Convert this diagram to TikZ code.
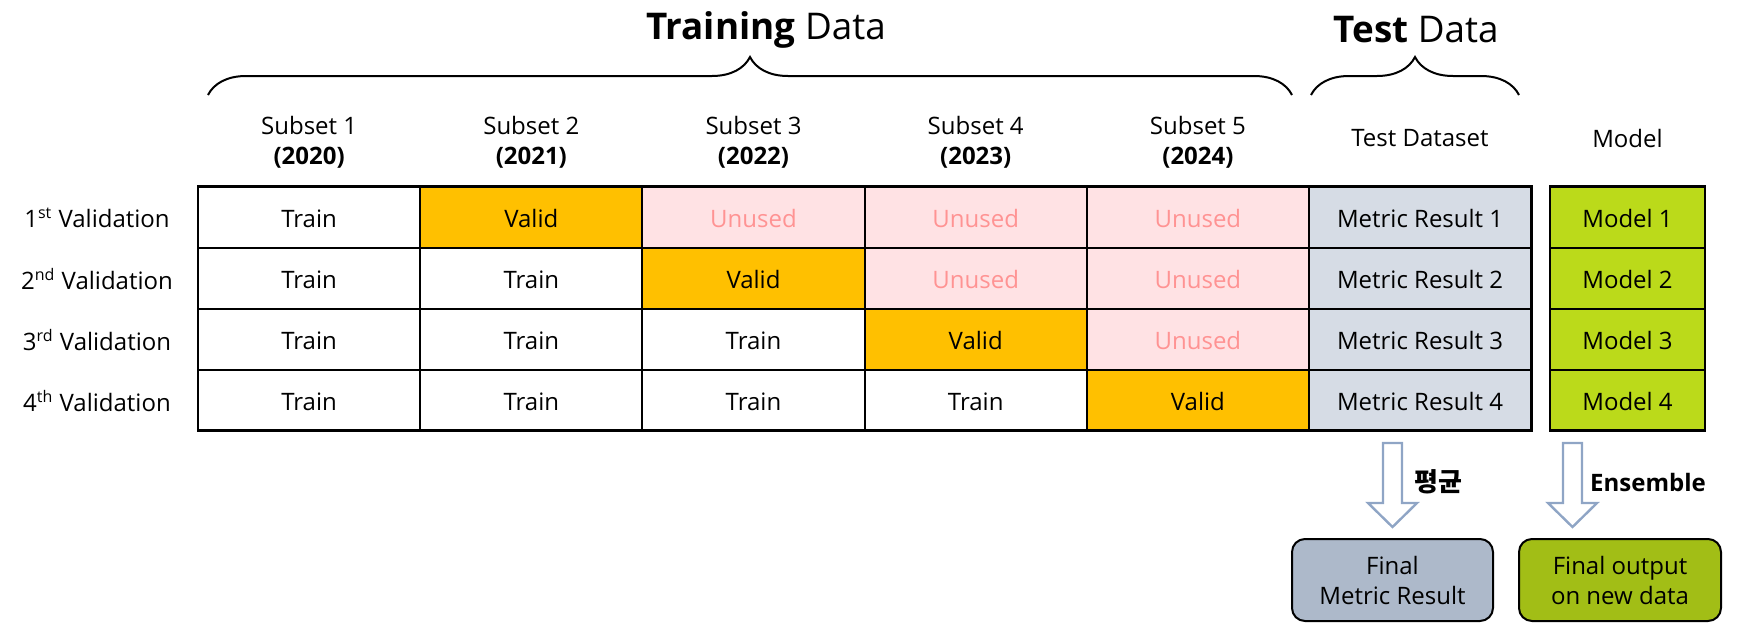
\documentclass[tikz,border=0pt]{standalone}
\usepackage{fontspec}
\setmainfont{Open Sans}
\newfontfamily\krfont{Noto Sans CJK KR}
\usepackage{tikz}
\usetikzlibrary{calc}
\usetikzlibrary{decorations.pathreplacing}

\definecolor{validc}{HTML}{FFC000}
\definecolor{unusedc}{HTML}{FFE2E4}
\definecolor{unusedtxt}{HTML}{FF9393}
\definecolor{testc}{HTML}{D6DCE5}
\definecolor{modelc}{HTML}{BBDA1A}
\definecolor{finalm}{HTML}{ADB9CA}
\definecolor{finalo}{HTML}{A2BE16}
\definecolor{arrowc}{HTML}{8FA5C5}

\tikzset{
	cell/.style={draw=black, line width=1pt, minimum width=111.1pt, minimum height=30.5pt,
		inner sep=0pt, outer sep=0pt, text height=10.8pt, text depth=0pt,
		font=\fontsize{12}{15}\selectfont},
	train/.style={cell, fill=white},
	valid/.style={cell, fill=validc},
	unused/.style={cell, fill=unusedc, text=unusedtxt},
	metric/.style={cell, fill=testc},
	modelbox/.style={cell, fill=modelc, minimum width=77.5pt},
	hdr/.style={align=center, inner sep=0pt, font=\fontsize{12}{15}\selectfont},
	title/.style={inner sep=0pt, font=\fontsize{18.4}{22}\selectfont},
	finalbox/.style={draw, line width=1pt, rounded corners=6.5pt, minimum width=100.5pt,
		minimum height=41pt, align=center, inner sep=0pt, font=\fontsize{12}{15}\selectfont},
	blockarrow/.style={draw=arrowc, line width=1.2pt, fill=white, line join=miter},
	brace/.style={decorate, decoration={brace, amplitude=19pt}, line width=1pt}
}

\begin{document}
\begin{tikzpicture}[x=0.5pt, y=-0.5pt]
\useasboundingbox (0,0) rectangle (1740,632);

% titles and braces
\node[title] (trtitle) at (766,30) {\textbf{Training} Data};
\node[title] (tetitle) at (1416,30) {\textbf{Test} Data};
\draw[brace] (208,95) -- (1292,95);
\draw[brace] (1311,95) -- (1519,95);

% column headers
\foreach \c/\y in {1/2020,2/2021,3/2022,4/2023,5/2024}
	\node[hdr] (sub\c) at ({198+222.2*(\c-0.5)},142) {Subset \c\\\textbf{(\y)}};
\node[hdr] (testhdr) at (1420,138) {Test Dataset};
\node[hdr] (modelhdr) at (1627.5,138) {Model};

% row labels
\node[hdr] (val1) at (97,218) {1\textsuperscript{st} Validation};
\node[hdr] (val2) at (97,279) {2\textsuperscript{nd} Validation};
\node[hdr] (val3) at (97,340) {3\textsuperscript{rd} Validation};
\node[hdr] (val4) at (97,401) {4\textsuperscript{th} Validation};

% folds
\foreach \r in {1,...,4}
	\foreach \c in {1,...,5}{
	\ifnum\c<\numexpr\r+1\relax
		\node[train] (c\r\c) at ({198+222.2*(\c-0.5)},{186.5+61*(\r-0.5)}) {Train};
	\else\ifnum\c=\numexpr\r+1\relax
		\node[valid] (c\r\c) at ({198+222.2*(\c-0.5)},{186.5+61*(\r-0.5)}) {Valid};
	\else
		\node[unused] (c\r\c) at ({198+222.2*(\c-0.5)},{186.5+61*(\r-0.5)}) {Unused};
	\fi\fi
	}
\foreach \r in {1,...,4}{
	\node[metric] (m\r) at (1420.1,{186.5+61*(\r-0.5)}) {Metric Result \r};
	\node[modelbox] (mod\r) at (1627.5,{186.5+61*(\r-0.5)}) {Model \r};
}
\draw[line width=1.4pt] (c11.north west) rectangle (m4.south east);
\draw[line width=1.4pt] (mod1.north west) rectangle (mod4.south east);

% results
\node[finalbox, fill=finalm] (fin1) at (1392.5,580) {Final\\Metric Result};
\node[finalbox, fill=finalo, minimum width=101pt] (fin2) at (1620,580) {Final output\\on new data};

\foreach \ax in {1392.5,1572.5}
	\draw[blockarrow] (\ax-9.5,443) -- (\ax+9.5,443) -- (\ax+9.5,503) -- (\ax+24.5,503)
		-- (\ax,527) -- (\ax-24.5,503) -- (\ax-9.5,503) -- cycle;
\node[hdr] (avg) at (1438,482) {\krfont\bfseries\fontsize{13}{15}\selectfont 평균};
\node[hdr] (ens) at (1648,482) {\bfseries Ensemble};

\end{tikzpicture}
\end{document}
